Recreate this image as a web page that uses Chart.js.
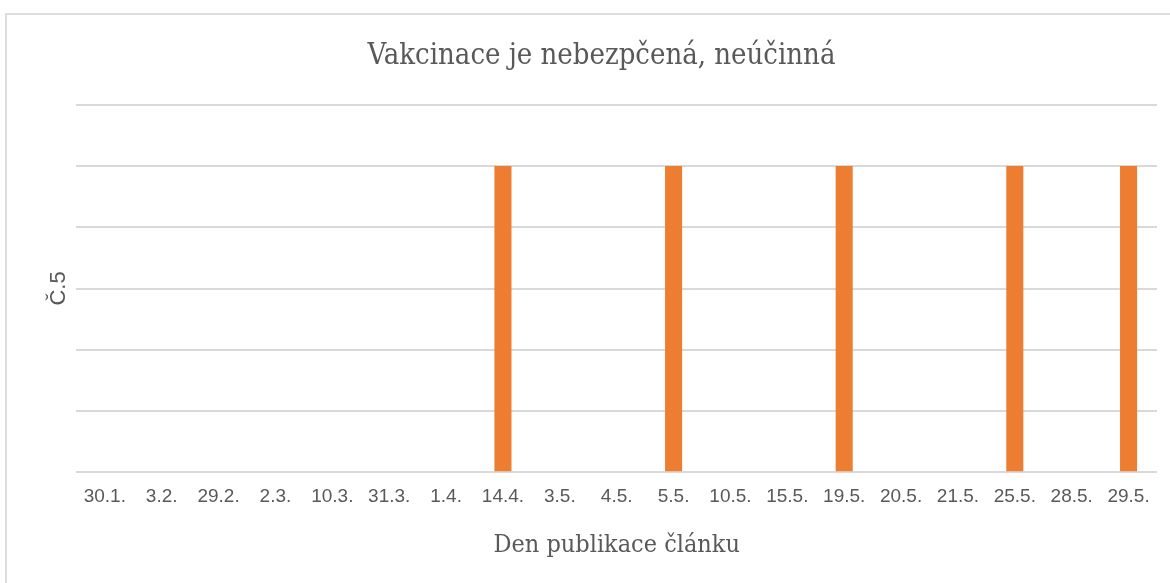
<!DOCTYPE html>
<html lang="cs">

<head>
    <meta charset="UTF-8">
    <title>Vakcinace je nebezpčená, neúčinná</title>
    <style>
        body {
            margin: 0;
            padding: 0;
            background-color: #fff;
        }

        #frame {
            position: absolute;
            left: 5px;
            top: 13px;
            width: 1180px;
            height: 600px;
            border: 2px solid #dedede;
        }

        #chart-box {
            position: absolute;
            left: 0;
            top: 0;
            width: 1170px;
            height: 583px;
        }
    </style>
</head>

<body>
    <div id="frame"></div>
    <div id="chart-box">
        <canvas id="chart"></canvas>
    </div>

    <script src="https://cdn.jsdelivr.net/npm/chart.js"></script>
    <script>
        const dates = ['30.1.', '3.2.', '29.2.', '2.3.', '10.3.', '31.3.', '1.4.', '14.4.', '3.5.', '4.5.',
            '5.5.', '10.5.', '15.5.', '19.5.', '20.5.', '21.5.', '25.5.', '28.5.', '29.5.'
        ];
        const counts = [0, 0, 0, 0, 0, 0, 0, 1, 0, 0, 1, 0, 0, 1, 0, 0, 1, 0, 1];

        const serif = "'DejaVu Serif Condensed', 'DejaVu Serif', serif";
        const sans = "'Liberation Sans', Arial, sans-serif";

        new Chart(document.getElementById('chart'), {
            type: 'bar',
            data: {
                labels: dates,
                datasets: [{
                    label: 'Č.5',
                    data: counts,
                    backgroundColor: '#ed7d31',
                    barPercentage: 0.5,
                    categoryPercentage: 0.6
                }]
            },
            options: {
                responsive: true,
                maintainAspectRatio: false,
                animation: false,
                layout: {
                    padding: { left: 46, right: 13, top: 0, bottom: 23 }
                },
                plugins: {
                    legend: { display: false },
                    tooltip: { enabled: false },
                    title: {
                        display: true,
                        text: 'Vakcinace je nebezpčená, neúčinná',
                        color: '#595959',
                        font: { family: serif, size: 29, weight: 'normal' },
                        padding: { top: 39, bottom: 31 }
                    }
                },
                scales: {
                    x: {
                        grid: { display: false, drawTicks: false },
                        border: { display: false },
                        ticks: {
                            color: '#595959',
                            font: { family: sans, size: 19 },
                            maxRotation: 0,
                            autoSkip: false,
                            padding: 13
                        },
                        title: {
                            display: true,
                            text: 'Den publikace článku',
                            color: '#595959',
                            font: { family: serif, size: 25 },
                            padding: { top: 9, bottom: 0 }
                        }
                    },
                    y: {
                        min: 0,
                        max: 1.2,
                        ticks: { display: false, stepSize: 0.2 },
                        grid: { color: '#d9d9d9', lineWidth: 2, drawTicks: false },
                        border: { display: false },
                        title: {
                            display: true,
                            text: 'Č.5',
                            color: '#595959',
                            font: { family: sans, size: 22 },
                            padding: { top: 0, bottom: 4 }
                        }
                    }
                }
            }
        });
    </script>
</body>

</html>
